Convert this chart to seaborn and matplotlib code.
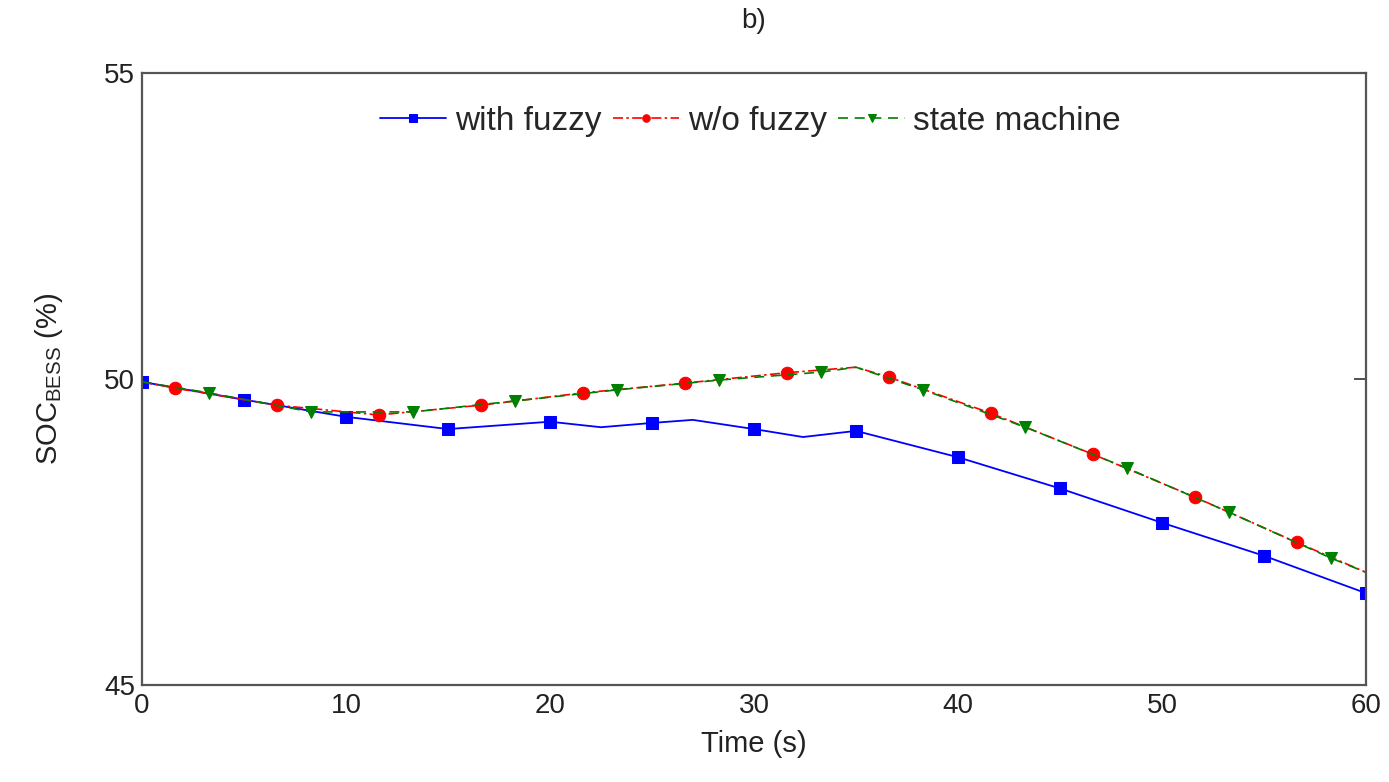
import matplotlib
matplotlib.use("Agg")
import matplotlib.pyplot as plt
import seaborn as sns
import pandas as pd

# ---- data ----
fuzzy_time = [0, 5, 10, 15, 20, 22.5, 25, 27, 30, 32.4, 35, 40, 45, 50, 55, 60]
fuzzy_soc = [49.95, 49.66, 49.38, 49.18, 49.30, 49.21, 49.28, 49.33, 49.18, 49.05,
             49.15, 48.72, 48.21, 47.65, 47.11, 46.50]
fuzzy_marks = [0, 5, 10, 15, 20, 25, 30, 35, 40, 45, 50, 55, 60]

wo_time = [0, 1.6, 6.6, 11.6, 16.6, 21.6, 26.6, 31.6, 35, 36.6, 41.6, 46.6, 51.6, 56.6, 60]
wo_soc = [49.95, 49.85, 49.57, 49.41, 49.57, 49.77, 49.93, 50.10, 50.19, 50.03,
          49.44, 48.77, 48.07, 47.33, 46.84]
wo_marks = [1.6, 6.6, 11.6, 16.6, 21.6, 26.6, 31.6, 36.6, 41.6, 46.6, 51.6, 56.6]

sm_time = [0, 3.3, 8.3, 13.3, 18.3, 23.3, 28.3, 33.3, 35, 38.3, 43.3, 48.3, 53.3, 58.3, 60]
sm_soc = [49.95, 49.77, 49.46, 49.46, 49.64, 49.82, 49.98, 50.11, 50.19, 49.82,
          49.21, 48.54, 47.82, 47.07, 46.84]
sm_marks = [3.3, 8.3, 13.3, 18.3, 23.3, 28.3, 33.3, 38.3, 43.3, 48.3, 53.3, 58.3]

labels = ["with fuzzy", "w/o fuzzy", "state machine"]
x_ticks = [0, 10, 20, 30, 40, 50, 60]
y_ticks = [45, 50, 55]

sns.set_theme(style="white")
plt.rcParams["font.family"] = ["Liberation Sans", "DejaVu Sans"]
plt.rcParams["mathtext.fontset"] = "custom"
plt.rcParams["mathtext.rm"] = "Liberation Sans"
plt.rcParams["mathtext.it"] = "Liberation Sans:italic"

FS = 20
fig = plt.figure(figsize=(13.89, 7.82), dpi=100)
ax = fig.add_axes([142 / 1389, 1 - 685 / 782, (1366 - 142) / 1389, (685 - 72.7) / 782])

series = [
    (fuzzy_time, fuzzy_soc, fuzzy_marks, labels[0], (0, 0, 1), "-", "s", 1.3),
    (wo_time, wo_soc, wo_marks, labels[1], (1, 0, 0), (0, (6, 2, 1.5, 2)), "o", 1.2),
    (sm_time, sm_soc, sm_marks, labels[2], (0, 0.5, 0), (0, (6, 4)), "v", 1.2),
]

handles = []
for t, v, marks, lab, col, ls, mk, lw in series:
    df = pd.DataFrame({"t": t, "v": v})
    idx = [i for i, tt in enumerate(t) if tt in marks]
    sns.lineplot(data=df, x="t", y="v", ax=ax, color=col, linestyle=ls, linewidth=lw,
                 marker=mk, markersize=9, markevery=idx, markeredgecolor=col,
                 markerfacecolor=col, sort=False, estimator=None, label=lab,
                 legend=False)
    handles.append(ax.lines[-1])

ax.set_xlim(0, 60)
ax.set_ylim(45, 55)
ax.set_xticks(x_ticks)
ax.set_yticks(y_ticks)
ax.tick_params(axis="both", direction="in", length=9, width=1.2, labelsize=FS,
               top=False, right=True, colors="#333333", labelcolor="#222222")
ax.tick_params(axis="x", pad=6)
ax.tick_params(axis="y", pad=5)
for s in ax.spines.values():
    s.set_color("#555555")
    s.set_linewidth(1.6)

ax.set_xlabel("Time (s)", fontsize=FS + 1, color="#222222", labelpad=8)
ax.set_ylabel(r"SOC$_{\mathrm{BESS}}$ (%)", fontsize=FS + 1, color="#222222", labelpad=28)
ax.set_title("b)", fontsize=FS, color="#222222", pad=32)

leg = ax.legend(handles=handles, labels=labels, loc="upper center",
                bbox_to_anchor=(0.497, 0.995), ncol=3, frameon=False, fontsize=24,
                handlelength=2.0, handletextpad=0.25, columnspacing=0.35,
                numpoints=1, markerscale=0.6)
for h in leg.legend_handles:
    h.set_markevery([1])

fig.savefig("out.png", dpi=100, facecolor="white")
